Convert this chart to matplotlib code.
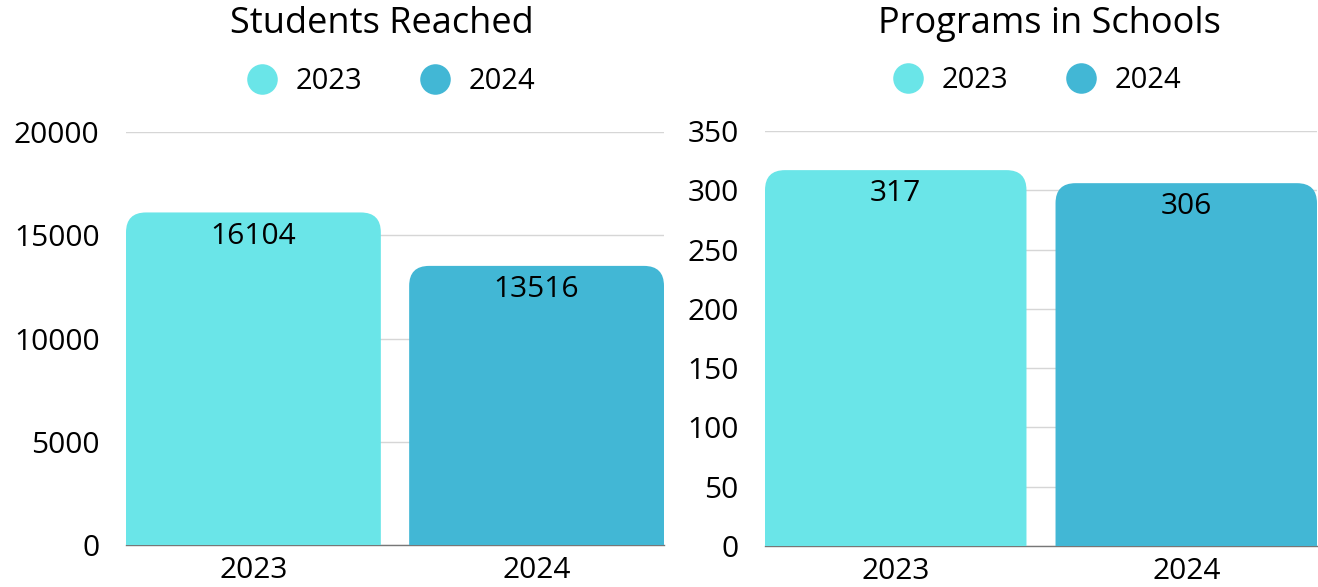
import numpy as np
import matplotlib.pyplot as plt
from matplotlib.path import Path
from matplotlib.patches import PathPatch
from matplotlib.lines import Line2D

plt.rcParams['font.family'] = ['Open Sans', 'DejaVu Sans']

years = ['2023', '2024']
students = [16104, 13516]
programs = [317, 306]
colors = ['#6ae5e8', '#42b7d5']


def rounded_bar(ax, x, h, width, color, r_px=20):
    # bar with only the top corners rounded, radius given in pixels
    fig = ax.figure
    bbox = ax.get_window_extent(fig.canvas.get_renderer())
    x0, x1 = ax.get_xlim()
    y0, y1 = ax.get_ylim()
    rx = r_px * (x1 - x0) / bbox.width
    ry = r_px * (y1 - y0) / bbox.height
    l, r = x - width / 2, x + width / 2
    verts = [(l, 0), (l, h - ry), (l, h), (l + rx, h), (r - rx, h),
             (r, h), (r, h - ry), (r, 0), (l, 0)]
    codes = [Path.MOVETO, Path.LINETO, Path.CURVE3, Path.CURVE3, Path.LINETO,
             Path.CURVE3, Path.CURVE3, Path.LINETO, Path.CLOSEPOLY]
    ax.add_patch(PathPatch(Path(verts, codes), facecolor=color,
                           edgecolor='none', zorder=3))


def panel(ax, values, ymax, step, title, title_x):
    ax.set_xlim(-0.45, 1.45)
    ax.set_ylim(0, ymax)
    ax.set_yticks(np.arange(0, ymax + 1, step))
    ax.set_xticks(range(len(years)))
    ax.set_xticklabels(years)
    ax.tick_params(length=0, labelsize=21.5, colors='black')
    ax.tick_params(axis='y', pad=19)
    ax.tick_params(axis='x', pad=8)
    ax.yaxis.grid(True, color='#d6d6d6', lw=1)
    ax.set_axisbelow(True)
    for s in ['top', 'right', 'left']:
        ax.spines[s].set_visible(False)
    ax.spines['bottom'].set_color('#777777')
    ax.spines['bottom'].set_linewidth(1)
    for i, v in enumerate(values):
        rounded_bar(ax, i, v, 0.9, colors[i])
        ax.annotate(str(v), (i, v), xytext=(0, -17), textcoords='offset points',
                    ha='center', va='center', fontsize=21.5, zorder=4)
    fig.text(title_x, 1 - 24 / 587, title, ha='center', va='center', fontsize=26)
    handles = [Line2D([], [], marker='o', ls='none', markersize=22,
                      markerfacecolor=c, markeredgecolor='none') for c in colors]
    ax.legend(handles, years, loc='center', bbox_to_anchor=(0.48, 1 + 50 / 413),
              ncol=2, frameon=False, fontsize=21, handletextpad=0.15,
              columnspacing=1.5)


fig = plt.figure(figsize=(13.18, 5.87), dpi=100)
ax1 = fig.add_axes([126 / 1318, 42 / 587, 538 / 1318, 413 / 587])
ax2 = fig.add_axes([765 / 1318, 41 / 587, 552 / 1318, 415 / 587])

panel(ax1, students, 20000, 5000, 'Students Reached', 382 / 1318)
panel(ax2, programs, 350, 50, 'Programs in Schools', 1049 / 1318)

plt.savefig('out.png', dpi=100)
